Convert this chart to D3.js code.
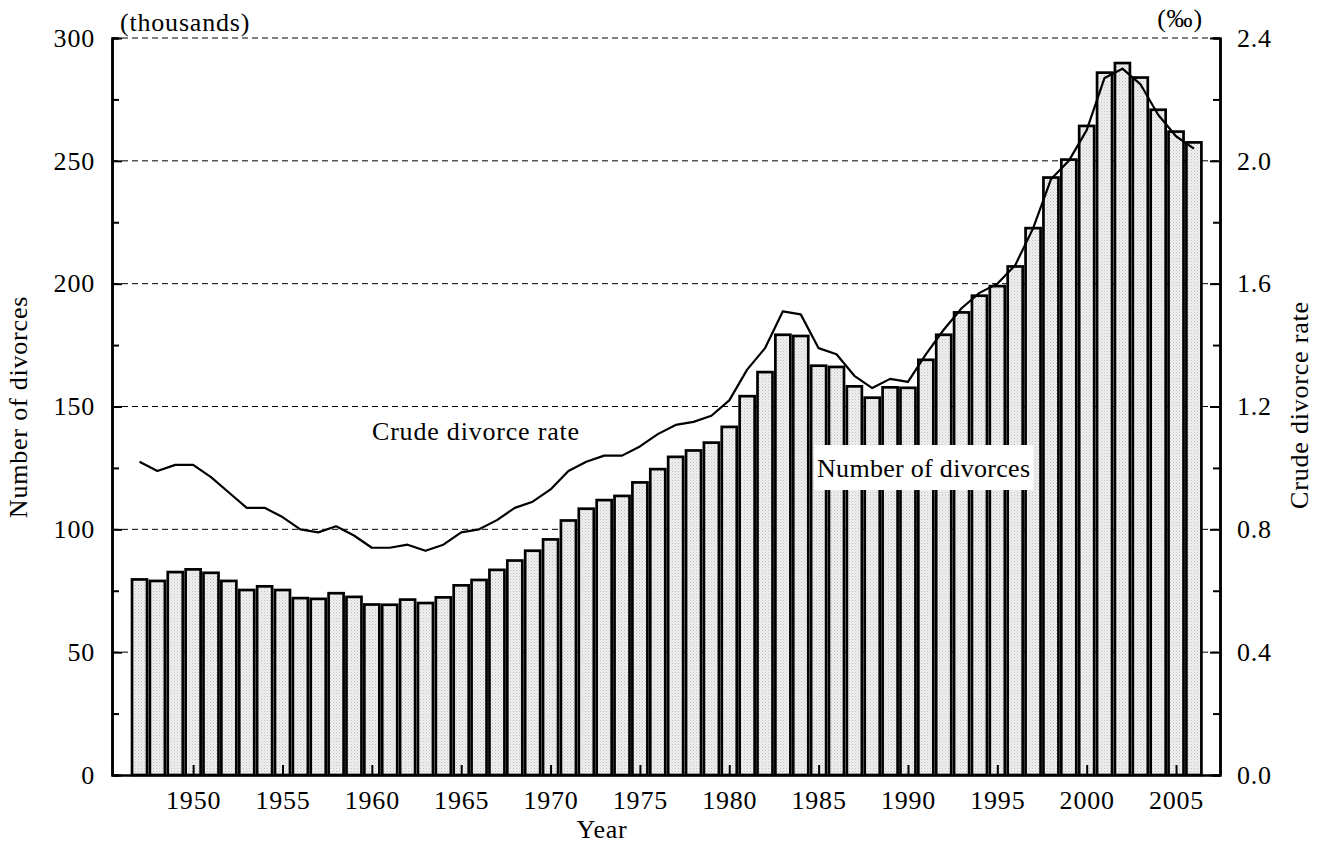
<!DOCTYPE html>
<html>
<head>
<meta charset="utf-8">
<script src="https://cdn.jsdelivr.net/npm/d3@7/dist/d3.min.js"></script>
<style>
  body { margin: 0; background: #fff; }
  svg { display: block; font-family: "Liberation Serif", "Times New Roman", serif; }
  text { letter-spacing: 0.8px; }
</style>
</head>
<body>
<svg id="chart"></svg>
<script>
// years shown on the x axis
const years = d3.range(1947, 2007);

// number of divorces (thousands)
const divorces = [
  79.6, 79.0, 82.6, 83.7, 82.3, 79.0, 75.3, 76.8, 75.3, 72.0,
  71.7, 74.0, 72.5, 69.4, 69.3, 71.4, 70.0, 72.3, 77.2, 79.4,
  83.5, 87.3, 91.3, 95.9, 103.6, 108.4, 111.9, 113.6, 119.1, 124.5,
  129.5, 132.1, 135.3, 141.7, 154.2, 164.0, 179.2, 178.7, 166.6, 166.1,
  158.2, 153.6, 157.8, 157.6, 169.0, 179.2, 188.3, 195.1, 199.0, 207.0,
  222.6, 243.2, 250.5, 264.2, 285.9, 289.8, 283.9, 270.8, 261.9, 257.5
];

// crude divorce rate (per 1000 population)
const crudeRate = [
  1.02, 0.99, 1.01, 1.01, 0.97, 0.92, 0.87, 0.87, 0.84, 0.80,
  0.79, 0.81, 0.78, 0.74, 0.74, 0.75, 0.73, 0.75, 0.79, 0.80,
  0.83, 0.87, 0.89, 0.93, 0.99, 1.02, 1.04, 1.04, 1.07, 1.11,
  1.14, 1.15, 1.17, 1.22, 1.32, 1.39, 1.51, 1.50, 1.39, 1.37,
  1.30, 1.26, 1.29, 1.28, 1.37, 1.45, 1.52, 1.57, 1.60, 1.66,
  1.78, 1.94, 2.00, 2.10, 2.27, 2.30, 2.25, 2.15, 2.08, 2.04
];

const yearTicks = [1950, 1955, 1960, 1965, 1970, 1975, 1980, 1985, 1990, 1995, 2000, 2005];
const leftTicks = [0, 50, 100, 150, 200, 250, 300];
const rightTicks = [0, 0.4, 0.8, 1.2, 1.6, 2.0, 2.4];

const w = 1318, h = 845;
const padLeft = 112, padRight = 1220, padTop = 38, padBottom = 775;

const svg = d3.select("#chart").attr("width", w).attr("height", h);

// stippled grey fill for the bars
const defs = svg.append("defs");
const pat = defs.append("pattern")
  .attr("id", "dots")
  .attr("width", 3).attr("height", 3)
  .attr("patternUnits", "userSpaceOnUse");
pat.append("rect").attr("width", 3).attr("height", 3).attr("fill", "#f0f0f0");
pat.append("rect").attr("width", 1).attr("height", 1).attr("fill", "#c0c0c0");
pat.append("rect").attr("x", 1.5).attr("y", 1.5).attr("width", 1).attr("height", 1).attr("fill", "#d0d0d0");

const x = d3.scaleLinear().domain([1945.46, 2007.46]).range([padLeft, padRight]);
const yL = d3.scaleLinear().domain([0, 300]).range([padBottom, padTop]);
const yR = d3.scaleLinear().domain([0, 2.4]).range([padBottom, padTop]);

// dashed grid lines
svg.append("g")
  .selectAll("line")
  .data(leftTicks.filter(d => d > 0))
  .enter()
  .append("line")
  .attr("x1", padLeft).attr("x2", padRight)
  .attr("y1", d => yL(d)).attr("y2", d => yL(d))
  .attr("stroke", "#000")
  .attr("stroke-width", 1)
  .attr("stroke-dasharray", "6,4");

// bars
const barW = 15;
svg.append("g")
  .selectAll("rect")
  .data(years)
  .enter()
  .append("rect")
  .attr("x", (d) => x(d) - barW / 2)
  .attr("y", (d, i) => yL(divorces[i]))
  .attr("width", barW)
  .attr("height", (d, i) => padBottom - yL(divorces[i]))
  .attr("fill", "url(#dots)")
  .attr("stroke", "#000")
  .attr("stroke-width", 2.7);

// crude divorce rate line
const line = d3.line()
  .x((d) => x(d))
  .y((d, i) => yR(crudeRate[i]));
svg.append("path")
  .datum(years)
  .attr("d", line)
  .attr("fill", "none")
  .attr("stroke", "#000")
  .attr("stroke-width", 2.2)
  .attr("stroke-linejoin", "round");

// axes
function styleAxis(g) {
  g.selectAll("path.domain").attr("stroke-width", 2.5);
  g.selectAll(".tick line").attr("stroke-width", 2);
  g.selectAll("text").attr("font-size", 26).attr("font-family", "Liberation Serif, serif").attr("fill", "#000");
}

// left minor ticks
svg.append("g")
  .attr("transform", `translate(${padLeft},0)`)
  .call(d3.axisLeft(yL).tickValues(d3.range(25, 300, 50)).tickSize(-7).tickFormat(""))
  .call(styleAxis);
// left major ticks with labels
svg.append("g")
  .attr("transform", `translate(${padLeft},0)`)
  .call(d3.axisLeft(yL).tickValues(leftTicks).tickSizeInner(-10).tickSizeOuter(0).tickPadding(17).tickFormat(d3.format("d")))
  .call(styleAxis);

// right minor ticks
svg.append("g")
  .attr("transform", `translate(${padRight},0)`)
  .call(d3.axisRight(yR).tickValues(d3.range(0.2, 2.4, 0.4)).tickSize(-7).tickFormat(""))
  .call(styleAxis);
// right major ticks with labels
svg.append("g")
  .attr("transform", `translate(${padRight},0)`)
  .call(d3.axisRight(yR).tickValues(rightTicks).tickSizeInner(-10).tickSizeOuter(0).tickPadding(17).tickFormat(d3.format(".1f")))
  .call(styleAxis);

// bottom axis
svg.append("g")
  .attr("transform", `translate(0,${padBottom})`)
  .call(d3.axisBottom(x).tickValues(yearTicks).tickSizeInner(-10).tickSizeOuter(0).tickPadding(16).tickFormat(d3.format("d")))
  .call(styleAxis);

// texts
const txt = (t, xx, yy, anchor) =>
  svg.append("text")
    .attr("x", xx).attr("y", yy)
    .attr("text-anchor", anchor || "start")
    .attr("font-size", 26)
    .attr("fill", "#000")
    .text(t);

txt("(thousands)", 120, 31);
txt("(\u2030)", 1180, 27, "middle");
txt("Year", 602, 838, "middle");
txt("Crude divorce rate", 372, 440);

// label over the bars with a white box
const nb = txt("Number of divorces", 817, 477).style("letter-spacing", "0.3px");
const bb = nb.node().getBBox();
svg.insert("rect", () => nb.node())
  .attr("x", bb.x - 3).attr("y", 445)
  .attr("width", bb.width + 6).attr("height", 45)
  .attr("fill", "#fff");

svg.append("text")
  .attr("transform", "translate(27,407) rotate(-90)")
  .attr("text-anchor", "middle")
  .attr("font-size", 26)
  .text("Number of divorces");

svg.append("text")
  .attr("transform", "translate(1308,405) rotate(-90)")
  .attr("text-anchor", "middle")
  .attr("font-size", 26)
  .text("Crude divorce rate");
</script>
</body>
</html>
